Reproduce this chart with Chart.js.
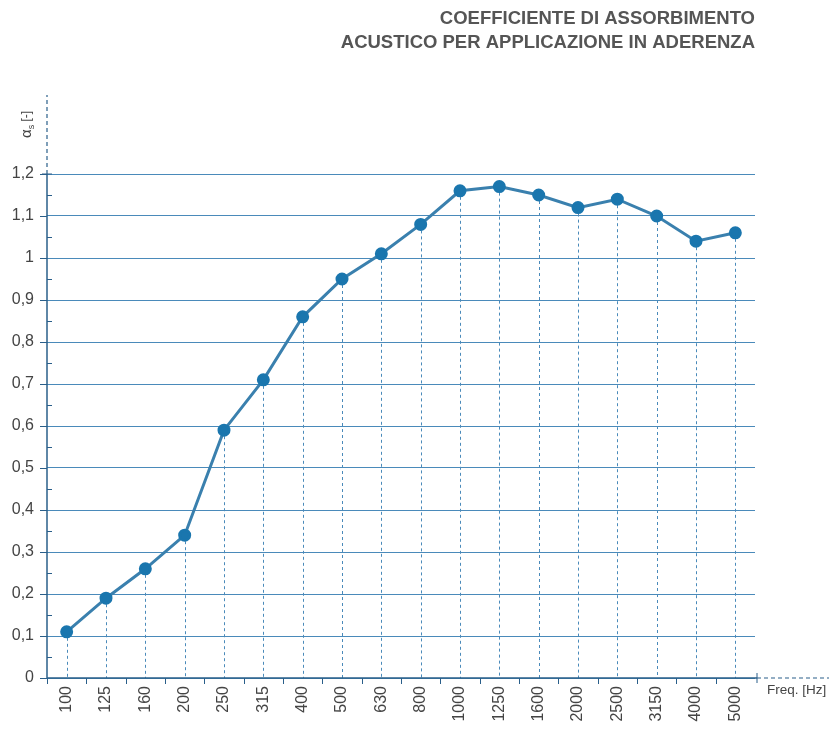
<!DOCTYPE html>
<html><head><meta charset="utf-8">
<script src="https://cdn.jsdelivr.net/npm/chart.js@4/dist/chart.umd.min.js"></script>
<style>html,body{margin:0;padding:0;background:#fff}#wrap{width:833px;height:731px}</style>
</head><body><div id="wrap"><canvas id="c" width="833" height="731"></canvas></div>
<script>
const frequencies = ['100','125','160','200','250','315','400','500','630','800','1000','1250','1600','2000','2500','3150','4000','5000'];
const absorption = [0.11,0.19,0.26,0.34,0.59,0.71,0.86,0.95,1.01,1.08,1.16,1.17,1.15,1.12,1.14,1.10,1.04,1.06];
const yTicks = [0,0.1,0.2,0.3,0.4,0.5,0.6,0.7,0.8,0.9,1,1.1,1.2];
const titleLines = ['COEFFICIENTE DI ASSORBIMENTO','ACUSTICO PER APPLICAZIONE IN ADERENZA'];
const xTitle = 'Freq. [Hz]';

const AXIS = '#2a5f8a', GRID = '#4a8aba', LINE = '#3a80ae', PT = '#1a76ae', TXT = '#444';
const FONT = "'Liberation Sans', Arial, sans-serif";

const extras = {
  id:'extras',
  beforeDatasetsDraw(chart){
    const {ctx, chartArea:a, scales:{x,y}} = chart;
    ctx.save();
    // dashed verticals
    ctx.strokeStyle = GRID; ctx.lineWidth = 1; ctx.setLineDash([3,3]);
    absorption.forEach((v,i)=>{
      const px = Math.round(x.getPixelForValue(i))+0.5;
      ctx.beginPath(); ctx.moveTo(px, y.getPixelForValue(v)); ctx.lineTo(px, a.bottom); ctx.stroke();
    });
    ctx.setLineDash([]);
    // y axis
    ctx.strokeStyle = AXIS; ctx.lineWidth = 1.5;
    ctx.beginPath(); ctx.moveTo(a.left, a.bottom); ctx.lineTo(a.left, a.top); ctx.stroke();
    ctx.setLineDash([4,3]); ctx.lineWidth = 1.2;
    ctx.beginPath(); ctx.moveTo(a.left, a.top); ctx.lineTo(a.left, 95); ctx.stroke();
    ctx.setLineDash([]);
    // x axis
    ctx.lineWidth = 1.5;
    ctx.beginPath(); ctx.moveTo(a.left, a.bottom); ctx.lineTo(a.right+2, a.bottom); ctx.stroke();
    ctx.setLineDash([4,3]); ctx.lineWidth = 1.2;
    ctx.beginPath(); ctx.moveTo(a.right+2, a.bottom); ctx.lineTo(829, a.bottom); ctx.stroke();
    ctx.setLineDash([]);
    ctx.lineWidth = 1;
    ctx.beginPath(); ctx.moveTo(a.right+2, a.bottom-5); ctx.lineTo(a.right+2, a.bottom+5); ctx.stroke();
    // y major ticks (left) and minor ticks (right)
    yTicks.forEach((t,i)=>{
      const py = Math.round(y.getPixelForValue(t))+0.5;
      ctx.beginPath(); ctx.moveTo(a.left-7, py); ctx.lineTo(a.left, py); ctx.stroke();
      if(i < yTicks.length-1){
        const pm = Math.round(y.getPixelForValue(t+0.05))+0.5;
        ctx.beginPath(); ctx.moveTo(a.left, pm); ctx.lineTo(a.left+5, pm); ctx.stroke();
      }
    });
    ctx.beginPath(); ctx.moveTo(a.left-5, y.getPixelForValue(1.2)); ctx.lineTo(a.left+5, y.getPixelForValue(1.2)); ctx.stroke();
    // x ticks between categories
    for(let i=0;i<frequencies.length;i++){
      const px = Math.round(x.getPixelForValue(i) - (x.getPixelForValue(1)-x.getPixelForValue(0))/2)+0.5;
      ctx.beginPath(); ctx.moveTo(px, a.bottom); ctx.lineTo(px, a.bottom+6); ctx.stroke();
    }
    // titles
    ctx.fillStyle = '#555'; ctx.font = 'bold 18.5px ' + FONT; ctx.textAlign='right'; ctx.textBaseline='alphabetic';
    ctx.fillText(titleLines[0], 755, 24);
    ctx.fillText(titleLines[1], 755, 48);
    // x title
    ctx.fillStyle = TXT; ctx.font = '13.5px ' + FONT; ctx.textAlign='left'; ctx.textBaseline='middle';
    ctx.fillText(xTitle, 767, a.bottom+12);
    // y title rotated
    ctx.translate(27, 138); ctx.rotate(-Math.PI/2);
    ctx.font = '15px ' + FONT; ctx.textBaseline='middle'; ctx.textAlign='left';
    ctx.fillText('α', 0, 0);
    const w = ctx.measureText('α').width;
    ctx.font = '9px ' + FONT; ctx.fillText('s', w, 5);
    const w2 = ctx.measureText('s').width;
    ctx.font = '12px ' + FONT; ctx.fillText(' [-]', w+w2, 0);
    ctx.restore();
  }
};

new Chart(document.getElementById('c'), {
  type:'line',
  data:{labels:frequencies, datasets:[{data:absorption, borderColor:LINE, borderWidth:3, pointRadius:5, pointBackgroundColor:PT, pointBorderColor:PT, tension:0}]},
  options:{
    responsive:false, animation:false, maintainAspectRatio:false,
    layout:{padding:{top:174, right:78, left:0, bottom:0}},
    plugins:{legend:{display:false}, tooltip:{enabled:false}},
    scales:{
      x:{offset:true, grid:{display:false, drawTicks:false}, border:{display:false},
        ticks:{maxRotation:90, minRotation:90, autoSkip:false, color:TXT, font:{family:FONT, size:16}, padding:8},
        afterFit(s){ s.height = 53; }},
      y:{min:0, max:1.2, afterBuildTicks(s){ s.ticks = yTicks.map(v=>({value:v})); },
        grid:{color:GRID, lineWidth:1, drawTicks:false}, border:{display:false},
        ticks:{color:TXT, font:{family:FONT, size:16}, padding:13, callback:v=>String(v).replace('.',',')},
        afterFit(s){ s.width = 47; }}
    }
  },
  plugins:[extras]
});
</script></body></html>
